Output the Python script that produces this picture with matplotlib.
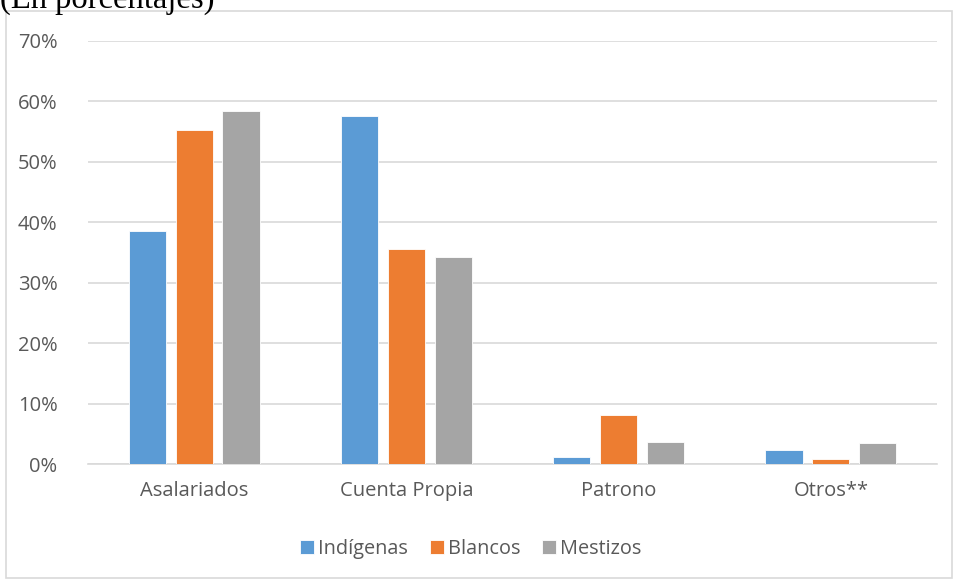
import matplotlib.pyplot as plt
import numpy as np
from matplotlib.patches import Rectangle

# Data (percent)
categories = ["Asalariados", "Cuenta Propia", "Patrono", "Otros**"]
series_names = ["Indígenas", "Blancos", "Mestizos"]
indigenas = [38.6, 57.6, 1.2, 2.3]
blancos = [55.2, 35.5, 8.1, 0.9]
mestizos = [58.3, 34.3, 3.6, 3.5]
yticks = [0, 10, 20, 30, 40, 50, 60, 70]

colors = ["#5B9BD5", "#ED7D31", "#A5A5A5"]
text_color = "#595959"
grid_color = "#D9D9D9"

plt.rcParams['font.family'] = ['Open Sans', 'DejaVu Sans']

fig = plt.figure(figsize=(9.55, 5.8), dpi=100)
ax = fig.add_axes([88 / 955, 116 / 580, 849 / 955, 423.3 / 580])

x = np.arange(len(categories))
width = 0.175
step = 0.221
for i, (vals, name) in enumerate(zip([indigenas, blancos, mestizos], series_names)):
    ax.bar(x + (i - 1) * step, vals, width, color=colors[i], label=name,
           edgecolor='white', linewidth=0.6, zorder=3)

ax.set_xlim(-0.5, len(categories) - 0.5)
ax.set_ylim(0, 70)
ax.set_yticks(yticks)
ax.set_yticklabels([f"{v}%" for v in yticks], color=text_color, fontsize=14.5)
ax.set_xticks(x)
ax.set_xticklabels(categories, color=text_color, fontsize=14.5)
ax.tick_params(axis='both', length=0)
ax.tick_params(axis='y', pad=22)
ax.tick_params(axis='x', pad=12)
ax.grid(axis='y', color=grid_color, linewidth=1.2, zorder=0)
for s in ['top', 'right', 'left']:
    ax.spines[s].set_visible(False)
ax.spines['bottom'].set_color(grid_color)
ax.spines['bottom'].set_linewidth(1.2)

leg = fig.legend(loc='center', bbox_to_anchor=(0.493, 1 - 549 / 580),
                 ncol=3, frameon=False, fontsize=14.3, handlelength=0.7,
                 handleheight=0.7, handletextpad=0.2, columnspacing=1.1)
for t in leg.get_texts():
    t.set_color(text_color)

# chart border
fig.patches.append(Rectangle((6 / 955, 2 / 580), 946 / 955, 567 / 580,
                             transform=fig.transFigure, fill=False,
                             edgecolor="#D9D9D9", linewidth=1.2))

# title cut off at the top
fig.text(0.0, 1 + 16 / 580, "(En porcentajes)", family='Liberation Serif',
         fontsize=23.5, color='black', ha='left', va='top')

plt.savefig("out.png", dpi=100)
